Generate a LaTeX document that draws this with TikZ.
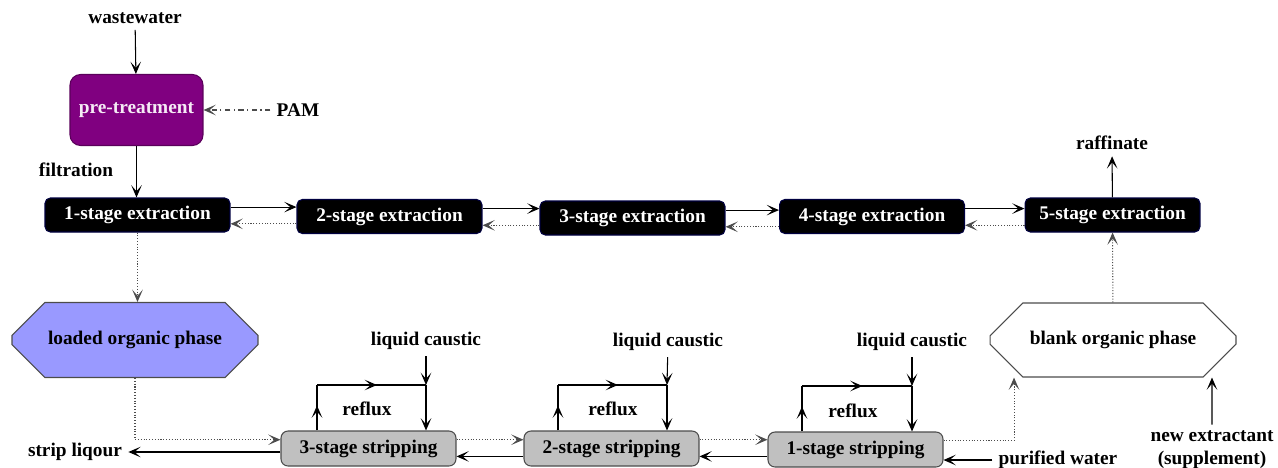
\documentclass[tikz,border=0pt]{standalone}
\usepackage{fontspec}
\setmainfont{Liberation Serif}
\usepackage{xcolor}
\usetikzlibrary{arrows.meta, shapes.misc, decorations.markings}

\definecolor{pretreat}{RGB}{128,0,128}
\definecolor{loaded}{RGB}{153,153,255}
\definecolor{stripgray}{RGB}{192,192,192}

\begin{document}
\begin{tikzpicture}[x=0.02cm, y=-0.02cm, line width=0.6pt,
    >={Stealth[length=7pt, width=6pt, inset=3.5pt]},
    font=\fontsize{11}{13}\selectfont\bfseries,
    extract/.style={rectangle, rounded corners=3pt, draw=blue!25!black, fill=black, text=white, minimum width=3.7cm, minimum height=0.68cm, inner sep=0pt},
    stripbox/.style={rectangle, rounded corners=4pt, draw=black!70, fill=stripgray, minimum width=3.5cm, minimum height=0.7cm, inner sep=0pt},
    phase/.style={chamfered rectangle, chamfered rectangle xsep=0.48cm, chamfered rectangle ysep=0.48cm, draw=black!70, minimum width=4.92cm, minimum height=1.5cm, inner sep=0pt},
    dotarrow/.style={->, densely dotted, black!70},
    midarrow/.style={postaction={decorate}, decoration={markings, mark=at position 0.55 with {\arrow{>}}}}]
    \useasboundingbox (0,0) rectangle (1278,467);

    % feed and pre-treatment
    \node (waste) at (135,18) {wastewater};
    \node[rectangle, rounded corners=6pt, draw=pretreat!70!black, fill=pretreat, text=pretreat!8, minimum width=2.66cm, minimum height=1.42cm] (pre) at (136.5,110) {pre-treatment};
    \node (pam) at (298,110) {PAM};
    \node (filt) at (76,170) {filtration};

    % extraction stages
    \node[extract] (ext1) at (137.5,215) {1-stage extraction};
    \node[extract] (ext2) at (389.5,216.5) {2-stage extraction};
    \node[extract] (ext3) at (632.5,218) {3-stage extraction};
    \node[extract] (ext4) at (872,216.5) {4-stage extraction};
    \node[extract, minimum width=3.5cm] (ext5) at (1112.5,215) {5-stage extraction};
    \node (raff) at (1112,143) {raffinate};

    % organic phases
    \node[phase, fill=loaded] (lop) at (135,340) {loaded organic phase};
    \node[phase, fill=white, minimum height=1.48cm] (blank) at (1113,340) {blank organic phase};

    % stripping stages
    \node[stripbox] (s3) at (368.5,448.5) {3-stage stripping};
    \node[stripbox] (s2) at (611.5,448.5) {2-stage stripping};
    \node[stripbox] (s1) at (855.5,449.5) {1-stage stripping};
    \node (lc3) at (426,341) {liquid caustic};
    \node (lc2) at (668,342) {liquid caustic};
    \node (lc1) at (912,342) {liquid caustic};
    \node (rf3) at (367,409) {reflux};
    \node (rf2) at (613,409) {reflux};
    \node (rf1) at (853,411) {reflux};
    \coordinate (up3) at (317,385);
    \coordinate (dn3) at (426,385);
    \coordinate (up2) at (558,385);
    \coordinate (dn2) at (667,385);
    \coordinate (up1) at (802,386);
    \coordinate (dn1) at (912,386);

    \node (strip) at (75,452) {strip liqour};
    \node (pw) at (1058,460) {purified water};
    \node[align=center] (newext) at (1212,450) {new extractant\\(supplement)};

    % feed line
    \draw[->] (waste) -- (pre);
    \draw[->, dash dot, black!70] (pam) -- (pre);
    \draw[->] (pre) -- (pre.south |- ext1.north);

    % extraction: organic forward, aqueous back
    \foreach \a/\b in {ext1/ext2, ext2/ext3, ext3/ext4, ext4/ext5} {
        \draw[->] ([yshift=4.5pt]\a.east) -- ([yshift=4.5pt]\a.east -| \b.west);
        \draw[dotarrow] ([yshift=-5pt]\a.east -| \b.west) -- ([yshift=-5pt]\a.east);
    }
    \draw[->] (ext5) -- (raff);
    \draw[dotarrow] (ext1) -- (ext1.south |- lop.north);
    \draw[dotarrow] (blank) -- (ext5);

    % stripping
    \draw[dotarrow] (lop.south) |- ([yshift=5pt]s3.west);
    \foreach \a/\b in {s3/s2, s2/s1} {
        \draw[dotarrow] ([yshift=5pt]\a.east) -- ([yshift=5pt]\a.east -| \b.west);
        \draw[->] ([yshift=-4.5pt]\a.east -| \b.west) -- ([yshift=-4.5pt]\a.east);
    }
    \draw[dotarrow] ([yshift=5pt]s1.east) -| ([xshift=-1.98cm]blank.south);
    \draw[->] (newext) -- ([xshift=1.98cm]blank.south);
    \draw[->] (pw) -- (pw -| s1.east);
    \draw[->] (s3.west |- strip) -- (strip);

    % reflux loops
    \foreach \s/\n in {s3/3, s2/2, s1/1} {
        \draw[midarrow] (\s.north -| up\n) -- (up\n);
        \draw[midarrow] (up\n) -- (dn\n);
        \draw[->] (dn\n) -- (\s.north -| dn\n);
        \draw[->] (lc\n) -- (dn\n);
    }
\end{tikzpicture}
\end{document}
